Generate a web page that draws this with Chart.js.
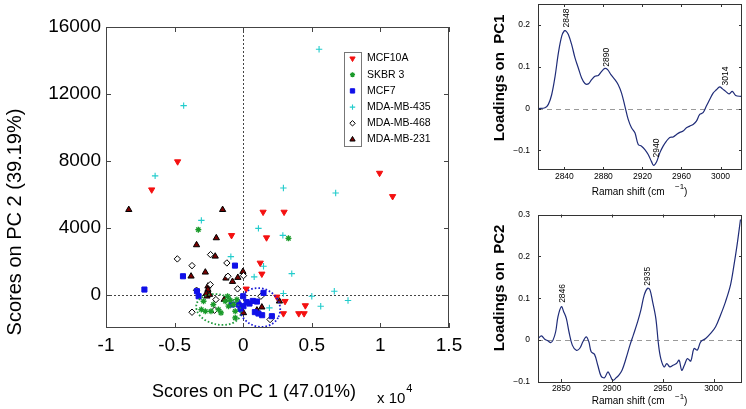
<!DOCTYPE html>
<html>
<head>
<meta charset="utf-8">
<script src="https://cdn.jsdelivr.net/npm/chart.js@4.4.0/dist/chart.umd.min.js"></script>
<style>
html, body { margin: 0; padding: 0; background: #fff; }
#wrap { position: relative; width: 746px; height: 409px; overflow: hidden; }
canvas { position: absolute; }
</style>
</head>
<body>
<div id="wrap">
  <canvas id="scores" width="480" height="409" style="left:0;top:0"></canvas>
  <canvas id="pc1" width="266" height="200" style="left:480px;top:0"></canvas>
  <canvas id="pc2" width="266" height="209" style="left:480px;top:200px"></canvas>
</div>
<script>
// scores: [PC1 (x 10^4), PC2]
var mcf10a = [[-0.478,7950],[-0.667,6270],[-0.085,3540],[0.994,7265],[1.089,5870],[0.145,4936],[0.298,4936],[0.17,3403],[0.124,1890],[0.136,1234],[0.022,340],[0.245,-140],[0.305,-400],[0.453,-657],[0.293,-1134],[0.405,-1134],[0.444,-1134]];
var skbr3 = [[-0.327,3880],[0.33,3361],[-0.289,-400],[-0.305,-896],[-0.276,-997],[-0.235,-997],[-0.18,-896],[-0.162,-1094],[-0.131,-400],[-0.095,-340],[-0.071,-597],[-0.058,-997],[-0.058,-1391],[-0.107,-697],[-0.046,-300],[-0.114,-100],[-0.218,-597]];
var mcf7 = [[-0.72,300],[-0.439,1094],[-0.06,1731],[-0.337,200],[-0.325,-100],[-0.082,-597],[-0.034,-597],[0.0,-100],[0.002,-697],[0.046,-537],[0.1,-418],[0.148,100],[0.111,-1134],[0.138,-1234],[0.209,-1294],[0.025,-450],[0.07,-380],[0.085,-1050],[-0.02,-850]];
var mda435 = [[-0.434,11300],[0.553,14670],[-0.642,7100],[-0.305,4436],[0.293,6370],[0.674,6071],[0.111,3958],[0.289,3540],[-0.09,2268],[0.148,1691],[0.08,1055],[0.354,1254],[0.293,60],[0.5,-100],[0.664,200],[0.764,-358],[0.565,-697],[0.191,-796]];
var mda468 = [[-0.48,2131],[-0.238,2388],[-0.373,1731],[-0.119,1890],[-0.111,1094],[0.002,1134],[-0.34,257],[-0.24,597],[-0.041,340],[-0.199,-300],[-0.373,-1057],[-0.209,-937],[0.129,-100],[0.196,-1493]];
var mda231 = [[-0.834,5075],[-0.15,5075],[-0.196,3385],[-0.34,2967],[-0.204,2287],[-0.276,1333],[-0.38,1094],[-0.126,975],[-0.078,776],[-0.039,1015],[-0.002,1373],[-0.257,496],[-0.264,-100],[-0.257,300],[-0.269,60],[-0.245,0],[-0.138,-300],[0.264,-400],[0.136,-756],[0.1,-937],[0.002,-1094]];

var scoreXTicks = [-1, -0.5, 0, 0.5, 1, 1.5];
var scoreYTicks = [0, 4000, 8000, 12000, 16000];

// loadings
var pc1Shift = [2813.4,2820.2,2823.6,2827,2830.5,2833.9,2837.3,2840,2841.7,2844.1,2847.5,2850.9,2854.3,2857.7,2861.1,2864.5,2867.9,2871.3,2874.8,2878.2,2881.6,2884.3,2887.7,2891.8,2895.2,2898.6,2902,2905.4,2908.8,2912.3,2915.7,2919.1,2922.5,2925.9,2929.3,2931.4,2934.4,2937.8,2941.2,2944.6,2948,2951.5,2954.9,2958.3,2961.7,2965.1,2968.5,2971.9,2975.3,2978.7,2982.1,2985.5,2989,2992.4,2995.8,2999.2,3002,3005.3,3008.7,3012.1,3015.5,3021.3];
var pc1Loading = [0,0.002,0.01,0.033,0.077,0.133,0.173,0.186,0.185,0.177,0.153,0.121,0.097,0.073,0.06,0.059,0.069,0.077,0.079,0.089,0.096,0.093,0.081,0.069,0.057,0.037,0.006,-0.026,-0.046,-0.058,-0.086,-0.09,-0.098,-0.11,-0.127,-0.136,-0.128,-0.106,-0.09,-0.078,-0.069,-0.068,-0.062,-0.057,-0.054,-0.046,-0.042,-0.038,-0.03,-0.014,-0.01,0.006,0.022,0.037,0.045,0.052,0.047,0.041,0.035,0.041,0.031,0.029];
var pc1XTicks = [2840, 2880, 2920, 2960, 3000];
var pc1YTicks = [-0.1, 0, 0.1, 0.2];
var pc1PeakLabels = ['2848', '2890', '2940', '3014'];
var pc1PeakX = [2842.8, 2883.7, 2934.8, 3005.3];
var pc1PeakY = [0.194, 0.1, -0.117, 0.055];

var pc2Shift = [2827.1,2830.4,2833.7,2836.9,2839.5,2841.8,2844.4,2846.7,2850,2852.3,2854.9,2857.5,2860.8,2864.7,2868,2871.2,2874.5,2877.1,2879.4,2882.7,2885.9,2889.2,2892.5,2895.8,2898,2900.7,2904,2906.5,2909.8,2913.7,2917.6,2920.9,2925.2,2928.4,2931.7,2935,2937.3,2939.9,2943.1,2945.8,2948,2951.3,2953.9,2956.9,2960.1,2963.4,2966,2968.6,2971.2,2974.2,2977.5,2980.7,2984,2987.3,2992.2,2997.1,3002,3006.9,3011.8,3016.7,3019.9,3023.2,3026.5];
var pc2Loading = [0.004,0.01,0.002,-0.002,-0.006,0,0.02,0.056,0.08,0.068,0.052,0.02,-0.012,-0.024,-0.02,-0.004,0.008,-0.004,-0.028,-0.034,-0.06,-0.086,-0.09,-0.076,-0.084,-0.096,-0.09,-0.084,-0.072,-0.044,-0.012,0.012,0.044,0.072,0.108,0.124,0.12,0.092,0.052,-0.012,-0.044,-0.064,-0.056,-0.064,-0.06,-0.056,-0.048,-0.072,-0.06,-0.044,-0.05,-0.02,-0.024,-0.004,0.004,0.016,0.032,0.06,0.092,0.132,0.176,0.228,0.288];
var pc2XTicks = [2850, 2900, 2950, 3000];
var pc2YTicks = [-0.1, 0, 0.1, 0.2, 0.3];
var pc2PeakLabels = ['2846', '2935'];
var pc2PeakX = [2851, 2935];
var pc2PeakY = [0.089, 0.13];

var FONT = 'Liberation Sans, Arial, Helvetica, sans-serif';
Chart.defaults.font.family = FONT;
Chart.defaults.color = '#000';

function pts(arr) {
  return arr.map(function (p) { return {x: p[0], y: p[1]}; });
}
function xy(xs, ys) {
  return xs.map(function (v, i) { return {x: v, y: ys[i]}; });
}
function fixedTicks(list) {
  return function (s) { s.ticks = list.map(function (v) { return {value: v}; }); };
}
function noPad(s) {
  s.paddingTop = 0; s.paddingBottom = 0; s.paddingLeft = 0; s.paddingRight = 0;
}

// draws the box and the inward MATLAB ticks
function drawFrame(chart, color, tl) {
  var ctx = chart.ctx, a = chart.chartArea, x = chart.scales.x, y = chart.scales.y;
  ctx.save();
  ctx.strokeStyle = color;
  ctx.lineWidth = 1;
  ctx.strokeRect(Math.round(a.left) + 0.5, Math.round(a.top) + 0.5, Math.round(a.right - a.left) - 1, Math.round(a.bottom - a.top) - 1);
  ctx.beginPath();
  x.ticks.forEach(function (t) {
    var px = Math.round(x.getPixelForValue(t.value)) + 0.5;
    ctx.moveTo(px, a.bottom); ctx.lineTo(px, a.bottom - tl);
    ctx.moveTo(px, a.top); ctx.lineTo(px, a.top + tl);
  });
  y.ticks.forEach(function (t) {
    var py = Math.round(y.getPixelForValue(t.value)) + 0.5;
    ctx.moveTo(a.left, py); ctx.lineTo(a.left + tl, py);
    ctx.moveTo(a.right, py); ctx.lineTo(a.right - tl, py);
  });
  ctx.stroke();
  ctx.restore();
}

// ---------- scores plot ----------
var clusters = [
  {cx: -0.18, cy: -896, rx: 0.165, ry: 896, rot: 0.22, color: '#1f9a3c'},
  {cx: 0.12, cy: -776, rx: 0.153, ry: 1134, rot: 0.5, color: '#1a1ad6'}
];

var scoresPlugin = {
  id: 'scoresDeco',
  beforeDatasetsDraw: function (chart) {
    var ctx = chart.ctx, a = chart.chartArea, x = chart.scales.x, y = chart.scales.y;
    var x0 = Math.round(x.getPixelForValue(0)) + 0.5, y0 = Math.round(y.getPixelForValue(0)) + 0.5;
    ctx.save();
    ctx.strokeStyle = '#444';
    ctx.lineWidth = 1;
    ctx.setLineDash([2, 2]);
    ctx.beginPath();
    ctx.moveTo(x0, a.top); ctx.lineTo(x0, a.bottom);
    ctx.moveTo(a.left, y0); ctx.lineTo(a.right, y0);
    ctx.stroke();
    ctx.restore();
  },
  afterDatasetsDraw: function (chart) {
    var ctx = chart.ctx, a = chart.chartArea, x = chart.scales.x, y = chart.scales.y;
    ctx.save();
    ctx.beginPath();
    ctx.rect(a.left, a.top, a.right - a.left, a.bottom - a.top);
    ctx.clip();
    ctx.lineWidth = 1.8;
    ctx.setLineDash([1.6, 2]);
    clusters.forEach(function (c) {
      var px = x.getPixelForValue(c.cx), py = y.getPixelForValue(c.cy);
      var rx = Math.abs(x.getPixelForValue(c.cx + c.rx) - px);
      var ry = Math.abs(y.getPixelForValue(c.cy + c.ry) - py);
      ctx.strokeStyle = c.color;
      ctx.beginPath();
      ctx.ellipse(px, py, rx, ry, c.rot, 0, Math.PI * 2);
      ctx.stroke();
    });
    ctx.restore();
  },
  afterDraw: function (chart) {
    var ctx = chart.ctx;
    drawFrame(chart, '#444', 5);
    ctx.save();
    ctx.fillStyle = '#000';
    // axis titles
    ctx.font = '18px ' + FONT;
    ctx.textAlign = 'center';
    ctx.textBaseline = 'alphabetic';
    ctx.fillText('Scores on PC 1 (47.01%)', 254, 397);
    ctx.textAlign = 'left';
    ctx.font = '15px ' + FONT;
    ctx.fillText('x 10', 377, 403);
    var w = ctx.measureText('x 10').width;
    ctx.font = '11px ' + FONT;
    ctx.fillText('4', 377 + w + 1, 392);
    ctx.save();
    ctx.translate(21, 222);
    ctx.rotate(-Math.PI / 2);
    ctx.font = '20px ' + FONT;
    ctx.textAlign = 'center';
    ctx.fillText('Scores on PC 2 (39.19%)', 0, 0);
    ctx.restore();
    // legend
    var lx = 344, ly = 52, step = 16.2;
    ctx.strokeStyle = '#777';
    ctx.lineWidth = 1;
    ctx.strokeRect(lx + 0.5, ly + 0.5, 17, 94);
    ctx.font = '10.5px ' + FONT;
    ctx.textBaseline = 'middle';
    chart.data.datasets.forEach(function (ds, i) {
      var cy = ly + 6.5 + i * step;
      ctx.fillStyle = ds.backgroundColor;
      ctx.strokeStyle = ds.borderColor;
      ctx.lineWidth = ds.borderWidth;
      Chart.helpers.drawPoint(ctx, {pointStyle: ds.pointStyle, rotation: ds.rotation || 0, radius: ds.pointRadius * 0.85, borderWidth: ds.borderWidth}, lx + 8.5, cy);
      ctx.fillStyle = '#000';
      ctx.fillText(ds.label, 367, cy);
    });
    ctx.restore();
  }
};

new Chart(document.getElementById('scores').getContext('2d'), {
  type: 'scatter',
  data: {
    datasets: [
      {label: 'MCF10A', data: pts(mcf10a), pointStyle: 'triangle', rotation: 180, pointRadius: 3.6, backgroundColor: '#f41010', borderColor: '#f41010', borderWidth: 1},
      {label: 'SKBR 3', data: pts(skbr3), pointStyle: 'star', pointRadius: 3, backgroundColor: '#1a9a2a', borderColor: '#1a9a2a', borderWidth: 1.3},
      {label: 'MCF7', data: pts(mcf7), pointStyle: 'rect', pointRadius: 3.6, backgroundColor: '#1010e8', borderColor: '#1010e8', borderWidth: 1},
      {label: 'MDA-MB-435', data: pts(mda435), pointStyle: 'cross', pointRadius: 3.2, backgroundColor: '#22cccc', borderColor: '#22cccc', borderWidth: 1.1},
      {label: 'MDA-MB-468', data: pts(mda468), pointStyle: 'rectRot', pointRadius: 3.2, backgroundColor: '#ffffff', borderColor: '#000000', borderWidth: 1},
      {label: 'MDA-MB-231', data: pts(mda231), pointStyle: 'triangle', pointRadius: 3.6, backgroundColor: '#7a0000', borderColor: '#000000', borderWidth: 1}
    ]
  },
  options: {
    responsive: false,
    animation: false,
    devicePixelRatio: 1,
    layout: {padding: {top: 27, right: 31, left: 0, bottom: 0}},
    plugins: {legend: {display: false}, tooltip: {enabled: false}},
    scales: {
      x: {
        type: 'linear', min: -1, max: 1.5,
        afterBuildTicks: fixedTicks(scoreXTicks),
        afterFit: function (s) { s.height = 409 - 328; noPad(s); },
        grid: {display: false, drawTicks: false},
        border: {display: false},
        ticks: {font: {size: 19}, padding: 6, maxRotation: 0, autoSkip: false, callback: function (v) { return String(v); }}
      },
      y: {
        type: 'linear', min: -2000, max: 16000,
        afterBuildTicks: fixedTicks(scoreYTicks),
        afterFit: function (s) { s.width = 106; noPad(s); },
        grid: {display: false, drawTicks: false},
        border: {display: false},
        ticks: {font: {size: 19}, padding: 5, autoSkip: false, callback: function (v) { return String(v); }}
      }
    }
  },
  plugins: [scoresPlugin]
});

// ---------- loadings plots ----------
function loadingChart(id, H, area, shift, loading, xMin, xMax, yMin, yMax, xTicks, yTicks, title, titleY, xTitleY, peakLabels, peakX, peakY) {
  var deco = {
    id: 'deco' + id,
    beforeDatasetsDraw: function (chart) {
      var ctx = chart.ctx, a = chart.chartArea, y = chart.scales.y;
      var y0 = Math.round(y.getPixelForValue(0)) + 0.5;
      ctx.save();
      ctx.strokeStyle = '#9a9a9a';
      ctx.lineWidth = 1.2;
      ctx.setLineDash([5, 4]);
      ctx.beginPath();
      ctx.moveTo(a.left, y0); ctx.lineTo(a.right, y0);
      ctx.stroke();
      ctx.restore();
    },
    afterDraw: function (chart) {
      var ctx = chart.ctx, x = chart.scales.x, y = chart.scales.y;
      drawFrame(chart, '#333', 3);
      ctx.save();
      ctx.fillStyle = '#000';
      ctx.font = '8.5px ' + FONT;
      ctx.textAlign = 'left';
      ctx.textBaseline = 'middle';
      peakLabels.forEach(function (lab, i) {
        ctx.save();
        ctx.translate(x.getPixelForValue(peakX[i]), y.getPixelForValue(peakY[i]));
        ctx.rotate(-Math.PI / 2);
        ctx.fillText(lab, 0, 0);
        ctx.restore();
      });
      // x title with superscript
      ctx.font = '10px ' + FONT;
      ctx.fillText('Raman shift (cm', 111.7, xTitleY);
      ctx.font = '8px ' + FONT;
      ctx.fillText('\u22121', 195, xTitleY - 5);
      ctx.font = '10px ' + FONT;
      ctx.fillText(')', 204, xTitleY);
      // y title
      ctx.save();
      ctx.translate(20, titleY);
      ctx.rotate(-Math.PI / 2);
      ctx.font = 'bold 15px ' + FONT;
      ctx.textAlign = 'center';
      ctx.fillText(title, 0, 0);
      ctx.restore();
      ctx.restore();
    }
  };
  return new Chart(document.getElementById(id).getContext('2d'), {
    type: 'line',
    data: {
      datasets: [{
        data: xy(shift, loading),
        borderColor: '#1f2c78',
        borderWidth: 1.2,
        pointRadius: 0,
        tension: 0.35,
        fill: false
      }]
    },
    options: {
      responsive: false,
      animation: false,
      devicePixelRatio: 1,
      layout: {padding: {top: area.top, right: 266 - area.right, left: 0, bottom: 0}},
      plugins: {legend: {display: false}, tooltip: {enabled: false}},
      scales: {
        x: {
          type: 'linear', min: xMin, max: xMax,
          afterBuildTicks: fixedTicks(xTicks),
          afterFit: function (s) { s.height = H - area.bottom; noPad(s); },
          grid: {display: false, drawTicks: false},
          border: {display: false},
          ticks: {font: {size: 8.5}, padding: 2, maxRotation: 0, autoSkip: false, callback: function (v) { return String(v); }}
        },
        y: {
          type: 'linear', min: yMin, max: yMax,
          afterBuildTicks: fixedTicks(yTicks),
          afterFit: function (s) { s.width = area.left; noPad(s); },
          grid: {display: false, drawTicks: false},
          border: {display: false},
          ticks: {font: {size: 8.5}, padding: 8, autoSkip: false, callback: function (v) { return v < 0 ? '\u2212' + Math.abs(v) : String(v); }}
        }
      }
    },
    plugins: [deco]
  });
}

loadingChart('pc1', 200, {left: 58, top: 4, right: 262, bottom: 170}, pc1Shift, pc1Loading, 2813, 3022, -0.147, 0.25,
  pc1XTicks, pc1YTicks, 'Loadings on  PC1', 78, 192, pc1PeakLabels, pc1PeakX, pc1PeakY);
loadingChart('pc2', 209, {left: 58, top: 14.5, right: 262, bottom: 182}, pc2Shift, pc2Loading, 2827, 3028, -0.1, 0.3,
  pc2XTicks, pc2YTicks, 'Loadings on  PC2', 88, 201.7, pc2PeakLabels, pc2PeakX, pc2PeakY);
</script>
</body>
</html>
